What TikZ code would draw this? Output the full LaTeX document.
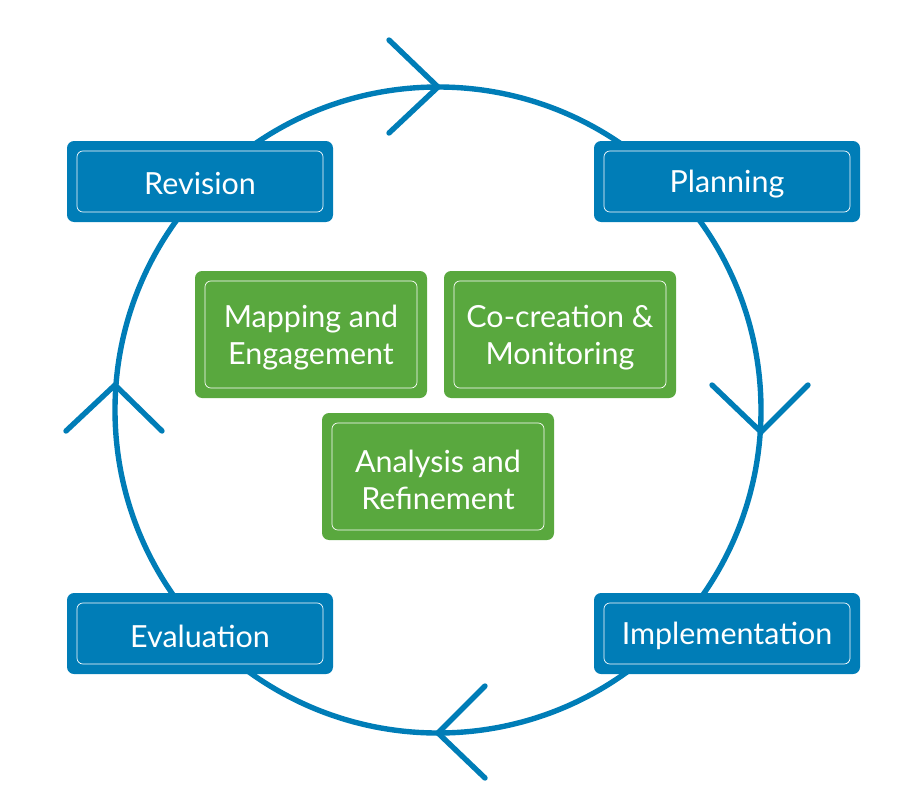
\documentclass[tikz,border=0pt]{standalone}
\usepackage{fontspec}
\setmainfont{Lato}
\definecolor{cblue}{RGB}{0,125,183}
\definecolor{cgreen}{RGB}{89,168,62}
\begin{document}
\begin{tikzpicture}[x=0.03cm,y=-0.03cm,
  innerline/.style={draw=white, line width=0.6pt, rounded corners=5},
  lbl/.style={text=white, font=\fontsize{26}{31.5}\selectfont, align=center},
  ring/.style={draw=cblue, line width=4.6pt},
  chev/.style={draw=cblue, line width=4.6pt, line cap=round, line join=round}]
\useasboundingbox (0,0) rectangle (900,808);
\coordinate (c) at (438,410);
\draw[ring] (c) circle [radius=323*0.03cm];
% chevrons
\coordinate (t) at (438,87);
\coordinate (r) at (761,432);
\coordinate (b) at (438,733);
\coordinate (l) at (115,385);
\draw[chev] (389,40) -- (t) -- (389,133);
\draw[chev] (712,385) -- (r) -- (808,385);
\draw[chev] (485,686) -- (b) -- (485,778);
\draw[chev] (66,431) -- (l) -- (162,431);
% blue boxes
\foreach \nm/\x/\y/\txt in {rev/67/141/Revision, plan/594/141/Planning, eval/67/593/Evaluation, impl/594/593/Implementation}{
  \fill[cblue, rounded corners=6] (\x,\y) rectangle ++(266,81);
  \draw[innerline] (\x+10,\y+10) rectangle ++(246,61);
  \node[lbl] (\nm) at (\x+133,\y+43) {\txt};
}
% green boxes
\foreach \nm/\x/\y/\txt in {map/195/271/{Mapping and\\Engagement}, cocr/444/271/{Co-creation \&\\Monitoring}, ana/322/413/{Analysis and\\Refinement}}{
  \fill[cgreen, rounded corners=6] (\x,\y) rectangle ++(232,127);
  \draw[innerline] (\x+10,\y+10) rectangle ++(212,107);
  \node[lbl] (\nm) at (\x+116,\y+67) {\txt};
}
\end{tikzpicture}
\end{document}
